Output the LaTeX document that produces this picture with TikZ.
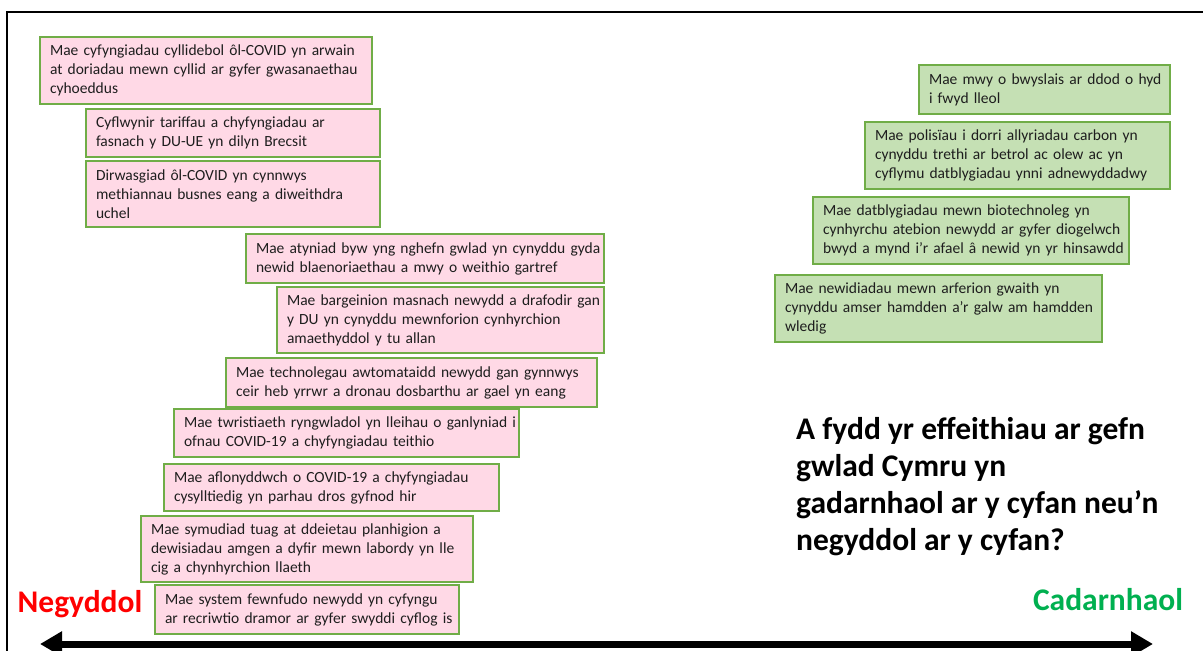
\documentclass[tikz,border=0pt]{standalone}
\usepackage{fontspec}
\setmainfont{Carlito}
\usetikzlibrary{arrows.meta}
\definecolor{bordergreen}{RGB}{112,173,71}
\definecolor{pinkfill}{RGB}{255,217,230}
\definecolor{greenfill}{RGB}{197,224,180}
\definecolor{negred}{RGB}{255,0,0}
\definecolor{posgreen}{RGB}{0,176,80}
\definecolor{txt}{RGB}{30,30,30}
\tikzset{
  pbox/.style={draw=bordergreen, line width=2pt, fill=pinkfill, rectangle, anchor=north west,
    inner xsep=10pt, inner ysep=2pt, align=left, text=txt, font=\fontsize{15.5}{19}\selectfont},
  gbox/.style={pbox, fill=greenfill},
  bigword/.style={font=\bfseries\fontsize{31.5}{37}\selectfont},
  axis/.style={line width=7pt, {Triangle[length=22pt,width=24pt]}-{Triangle[length=22pt,width=24pt]}}
}
\newcommand\LL[1]{\mbox{#1}}
\hyphenpenalty=10000
\begin{document}
\begin{tikzpicture}[x=1pt,y=-1pt]
\useasboundingbox (0,0) rectangle (1203,651);
\clip (0,0) rectangle (1203,651);
\fill[white] (0,0) rectangle (1203,651);
\draw[line width=2pt] (7,670) -- (7,12) -- (1220,12);
% negative boxes (text width = width - 20)
\node[pbox, minimum width=332pt, minimum height=67pt, text width=312pt] (n1) at (39,36) {\LL{Mae cyfyngiadau cyllidebol ôl-COVID yn arwain}\\\LL{at doriadau mewn cyllid ar gyfer gwasanaethau}\\\LL{cyhoeddus}};
\node[pbox, minimum width=294pt, minimum height=48pt, text width=274pt] (n2) at (85,108) {\LL{Cyflwynir tariffau a chyfyngiadau ar}\\\LL{fasnach y DU-UE yn dilyn Brecsit}};
\node[pbox, minimum width=294pt, minimum height=66pt, text width=274pt] (n3) at (85,160) {\LL{Dirwasgiad ôl-COVID yn cynnwys}\\\LL{methiannau busnes eang a diweithdra}\\\LL{uchel}};
\node[pbox, minimum width=358pt, minimum height=49pt, text width=338pt] (n4) at (245,233) {\LL{Mae atyniad byw yng nghefn gwlad yn cynyddu gyda}\\\LL{newid blaenoriaethau a mwy o weithio gartref}};
\node[pbox, minimum width=327pt, minimum height=66pt, text width=307pt] (n5) at (276,286) {\LL{Mae bargeinion masnach newydd a drafodir gan}\\\LL{y DU yn cynyddu mewnforion cynhyrchion}\\\LL{amaethyddol y tu allan}};
\node[pbox, minimum width=371pt, minimum height=49pt, text width=351pt] (n6) at (225,357) {\LL{Mae technolegau awtomataidd newydd gan gynnwys}\\\LL{ceir heb yrrwr a dronau dosbarthu ar gael yn eang}};
\node[pbox, minimum width=345pt, minimum height=48pt, text width=325pt] (n7) at (173,408) {\LL{Mae twristiaeth ryngwladol yn lleihau o ganlyniad i}\\\LL{ofnau COVID-19 a chyfyngiadau teithio}};
\node[pbox, minimum width=335pt, minimum height=47pt, text width=315pt] (n8) at (163,463) {\LL{Mae aflonyddwch o COVID-19 a chyfyngiadau}\\\LL{cysylltiedig yn parhau dros gyfnod hir}};
\node[pbox, minimum width=332pt, minimum height=66pt, text width=312pt] (n9) at (140,515) {\LL{Mae symudiad tuag at ddeietau planhigion a}\\\LL{dewisiadau amgen a dyfir mewn labordy yn lle}\\\LL{cig a chynhyrchion llaeth}};
\node[pbox, minimum width=304pt, minimum height=49pt, text width=284pt] (n10) at (154,584) {\LL{Mae system fewnfudo newydd yn cyfyngu}\\\LL{ar recriwtio dramor ar gyfer swyddi cyflog is}};
% positive boxes
\node[gbox, minimum width=251pt, minimum height=49pt, text width=231pt] (p1) at (918,64) {\LL{Mae mwy o bwyslais ar ddod o hyd}\\\LL{i fwyd lleol}};
\node[gbox, minimum width=305pt, minimum height=67pt, text width=285pt] (p2) at (864,121) {\LL{Mae polisïau i dorri allyriadau carbon yn}\\\LL{cynyddu trethi ar betrol ac olew ac yn}\\\LL{cyflymu datblygiadau ynni adnewyddadwy}};
\node[gbox, minimum width=316pt, minimum height=67pt, text width=296pt] (p3) at (812,196) {\LL{Mae datblygiadau mewn biotechnoleg yn}\\\LL{cynhyrchu atebion newydd ar gyfer diogelwch}\\\LL{bwyd a mynd i'r afael â newid yn yr hinsawdd}};
\node[gbox, minimum width=327pt, minimum height=67pt, text width=307pt] (p4) at (774,274) {\LL{Mae newidiadau mewn arferion gwaith yn}\\\LL{cynyddu amser hamdden a'r galw am hamdden}\\\LL{wledig}};
% question
\node[bigword, anchor=north west, align=left, inner sep=0pt] (q) at (796,417) {A fydd yr effeithiau ar gefn\\gwlad Cymru yn\\gadarnhaol ar y cyfan neu’n\\negyddol ar y cyfan?};
\node[bigword, text=negred, inner sep=0pt] (neg) at (80,604) {Negyddol};
\node[bigword, text=posgreen, inner sep=0pt] (pos) at (1108,600) {Cadarnhaol};
% axis
\coordinate (aL) at (40,644);
\coordinate (aR) at (1153,644);
\draw[axis] (aL) -- (aR);
\end{tikzpicture}
\end{document}
